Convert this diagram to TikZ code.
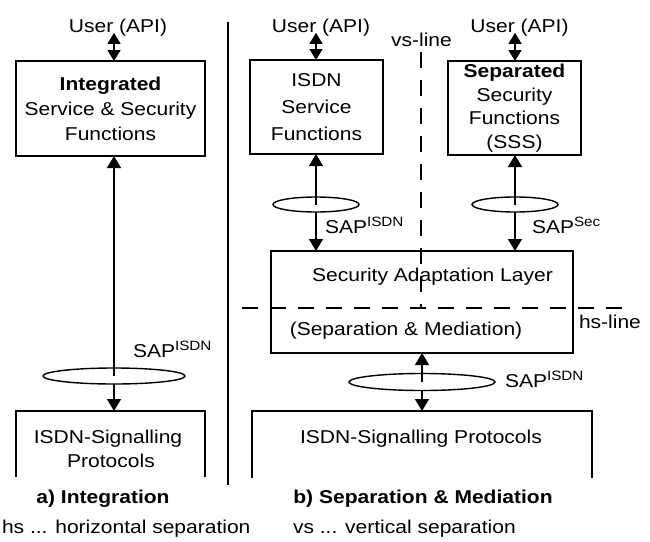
\documentclass[tikz,border=0pt]{standalone}
\usepackage{fontspec}
\setmainfont{Liberation Sans}[FakeStretch=1.13]
\usetikzlibrary{arrows.meta,shapes.geometric}
\newcommand{\sapsup}[1]{SAP\raisebox{6.5pt}{\fontsize{13.5pt}{14pt}\selectfont #1}}
\begin{document}
\begin{tikzpicture}[x=1pt,y=-1pt,
  every node/.style={inner sep=0pt, outer sep=0pt},
  txt/.style={font=\fontsize{18.6pt}{25pt}\selectfont, anchor=base},
  boxnode/.style={draw, line width=1.5pt, rectangle, align=center, font=\fontsize{18.6pt}{25pt}\selectfont},
  openbox/.style={rectangle, draw=none},
  sapell/.style={ellipse, draw, line width=1.4pt, fill=white},
  arr/.style={line width=1.4pt, -{Triangle[length=12pt,width=14pt]}},
  darr/.style={line width=1.4pt, {Triangle[length=11pt,width=13pt]}-{Triangle[length=11pt,width=13pt]}},
  sepline/.style={line width=1.4pt, dash pattern=on 16pt off 12pt},
  divider/.style={line width=1.4pt}]
\useasboundingbox (0,0) rectangle (650,541);

% ---------- a) Integration ----------
\node[txt] (u1) at (118,32) {User (API)};
\node[boxnode, minimum width=189pt, minimum height=95pt] (box1) at (110.5,108.5)
  {\textbf{Integrated}\\Service \& Security\\Functions};
\node[sapell, minimum width=142pt, minimum height=16pt] (e1) at (114,376) {};
\node[openbox, anchor=north west, minimum width=189pt, minimum height=66pt] (isdnL) at (16,411) {};
\draw[line width=1.5pt] (isdnL.south west) -- (isdnL.north west) -- (isdnL.north east) -- (isdnL.south east);
\node[txt] (isdnLt1) at (108,443) {ISDN-Signalling};
\node[txt] (isdnLt2) at (111,467) {Protocols};
\node[txt, anchor=base west] (sapL) at (133,357) {\sapsup{ISDN}};

\draw[darr] (u1.south -| e1.center) ++(0,-3) -- (box1.north -| e1.center);
\draw[arr] (e1.center) -- (e1.center |- box1.south);
\draw[arr] (e1.south) -- (e1.south |- isdnL.north);

\node[txt, font=\bfseries\fontsize{18.6pt}{25pt}\selectfont] (capA) at (103,503) {a) Integration};
\node[txt, anchor=base west] (legendhs) at (2,533) {hs ... horizontal separation};

% divider
\coordinate (divtop) at (228,22);
\coordinate (divbot) at (228,485);
\draw[divider] (divtop) -- (divbot);

% ---------- b) Separation & Mediation ----------
\node[txt] (u2) at (321,32) {User (API)};
\node[txt] (u3) at (519.5,32) {User (API)};
\node[txt] (vslabel) at (421.5,46) {vs-line};

\node[boxnode, minimum width=133pt, minimum height=94pt, font=\fontsize{18.6pt}{27pt}\selectfont] (box2) at (316.5,107)
  {ISDN\\Service\\Functions};
\node[boxnode, minimum width=133pt, minimum height=94pt, font=\fontsize{18.6pt}{23.5pt}\selectfont] (box3) at (514.5,108)
  {\textbf{Separated}\\Security\\Functions\\(SSS)};

\node[rectangle, draw, line width=1.5pt, minimum width=302pt, minimum height=102pt] (sal) at (422,302) {};
\node[txt] (salt1) at (432.5,281) {Security Adaptation Layer};
\node[txt] (salt2) at (406,335) {(Separation \& Mediation)};

\node[sapell, minimum width=86pt, minimum height=15pt] (e2) at (316,204.5) {};
\node[sapell, minimum width=86pt, minimum height=15pt] (e3) at (515,204.5) {};
\node[sapell, minimum width=146pt, minimum height=17pt] (e4) at (422,382) {};

\node[txt, anchor=base west] (sap2) at (325,233) {\sapsup{ISDN}};
\node[txt, anchor=base west] (sap3) at (532,233) {\sapsup{Sec}};
\node[txt, anchor=base west] (sap4) at (505,387) {\sapsup{ISDN}};

\node[openbox, anchor=north west, minimum width=340pt, minimum height=67pt] (isdnR) at (252,411) {};
\draw[line width=1.5pt] (isdnR.south west) -- (isdnR.north west) -- (isdnR.north east) -- (isdnR.south east);
\node[txt] (isdnRt) at (421,443) {ISDN-Signalling Protocols};

\draw[darr] (u2.south -| e2.center) ++(0,-3) -- (box2.north -| e2.center);
\draw[darr] (u3.south -| e3.center) ++(0,-3) -- (box3.north -| e3.center);
\draw[arr] (e2.center) -- (e2.center |- box2.south);
\draw[arr] (e2.south) -- (e2.south |- sal.north);
\draw[arr] (e3.center) -- (e3.center |- box3.south);
\draw[arr] (e3.south) -- (e3.south |- sal.north);
\draw[arr] (e4.center) -- (e4.center |- sal.south);
\draw[arr] (e4.south) -- (e4.south |- isdnR.north);

% separation lines
\coordinate (vstop) at (421,52);
\coordinate (vsbot) at (421,308);
\coordinate (hsleft) at (242,308);
\coordinate (hsright) at (630,308);
\draw[sepline] (vstop) -- (vsbot);
\draw[sepline] (hsleft) -- (hsright);
\node[txt, anchor=base west] (hslabel) at (579,328) {hs-line};

\node[txt, font=\bfseries\fontsize{18.6pt}{25pt}\selectfont] (capB) at (423,503) {b) Separation \& Mediation};
\node[txt, anchor=base west] (legendvs) at (293,533) {vs ... vertical separation};
\end{tikzpicture}
\end{document}
